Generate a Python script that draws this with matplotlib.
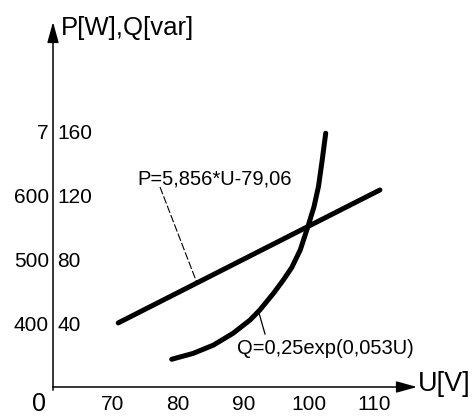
import matplotlib.pyplot as plt

plt.rcParams['font.family'] = ['Liberation Sans', 'DejaVu Sans']

# Donnees (U en V, Q en var)
u_p = [70.8, 110.9]
q_p = [40.2, 123.6]

u_q = [79.0, 82.3, 85.4, 88.4, 91.0, 92.5, 94.6, 96.1, 97.4, 98.7, 99.9, 100.8, 101.5, 102.05, 102.6]
q_q = [17.4, 21.1, 26.3, 33.7, 42.0, 48.3, 58.8, 67.1, 75.0, 86.0, 101.0, 113.0, 126.0, 142.0, 159.2]

u_ticks = [70, 80, 90, 100, 110]
q_ticks = [40, 80, 120, 160]
p_ticks = [400, 500, 600, 700]
p_labels = ['400', '500', '600', '7']

label_p = "P=5,856*U-79,06"
label_q = "Q=0,25exp(0,053U)"

# Echelle : pixels -> donnees
W, H = 475, 416
U_PX = 6.525
Q_PX = 1.594


def px(x, y):
    return 70 + (x - 113) / U_PX, (387 - y) / Q_PX


def q2p(q):
    return 2.5 * q + 300


def p2q(p):
    return (p - 300) / 2.5


fig = plt.figure(figsize=(W / 100, H / 100), dpi=100)
ax = fig.add_axes([0, 0, 1, 1])
u0, qtop = px(0, 0)
u1, qbot = px(W, H)
ax.set_xlim(u0, u1)
ax.set_ylim(qbot, qtop)

u_axis = px(53, 0)[0]
for s in ['top', 'right']:
    ax.spines[s].set_visible(False)
ax.spines['left'].set_position(('data', u_axis))
ax.spines['bottom'].set_position(('data', 0))
ax.spines['left'].set_visible(False)
ax.spines['bottom'].set_visible(False)

# fleches des axes
tip_u = px(417, 0)[0]
tip_q = px(0, 22)[1]
arrow = dict(arrowstyle='-|>,head_length=0.9,head_width=0.25', lw=1.1, color='black',
             mutation_scale=14, shrinkA=0, shrinkB=0)
ax.annotate('', xy=(tip_u, 0), xytext=(u_axis, 0), arrowprops=arrow)
ax.annotate('', xy=(u_axis, tip_q), xytext=(u_axis, -2), arrowprops=arrow)

ax.set_xticks(u_ticks)
ax.set_xticklabels([str(v) for v in u_ticks])
ax.tick_params(axis='x', length=0, pad=6, labelsize=15)
ax.set_yticks(q_ticks)
ax.set_yticklabels([str(v) for v in q_ticks], ha='left')
ax.tick_params(axis='y', length=0, pad=-3, labelsize=15)

frac = (u_axis - u0) / (u1 - u0)
sec = ax.secondary_yaxis(frac, functions=(q2p, p2q))
sec.set_yticks(p_ticks)
sec.set_yticklabels(p_labels)
sec.tick_params(axis='y', length=0, pad=3, labelsize=15)
sec.spines['left'].set_visible(False)

# courbes
ax.plot(u_p, q_p, color='black', lw=3.6, solid_capstyle='round')
ax.plot(u_q, q_q, color='black', lw=3.6, solid_capstyle='round', solid_joinstyle='round')

# etiquettes et lignes de rappel
ax.plot(*zip(px(160, 187), px(197, 283)), color='black', lw=0.8, dashes=(7, 2))
ax.plot(*zip(px(259, 313), px(265, 334)), color='black', lw=0.9)
ax.text(*px(137, 179), label_p, fontsize=14.5, ha='left', va='center')
ax.text(*px(237, 348), label_q, fontsize=14.5, ha='left', va='center')

ax.text(*px(61, 28), "P[W],Q[var]", fontsize=18.5, ha='left', va='center')
ax.text(*px(418, 384), "U[V]", fontsize=19.5, ha='left', va='center')
ax.text(*px(39, 404), "0", fontsize=18, ha='center', va='center')

fig.savefig("out.png", dpi=100)
plt.close(fig)
